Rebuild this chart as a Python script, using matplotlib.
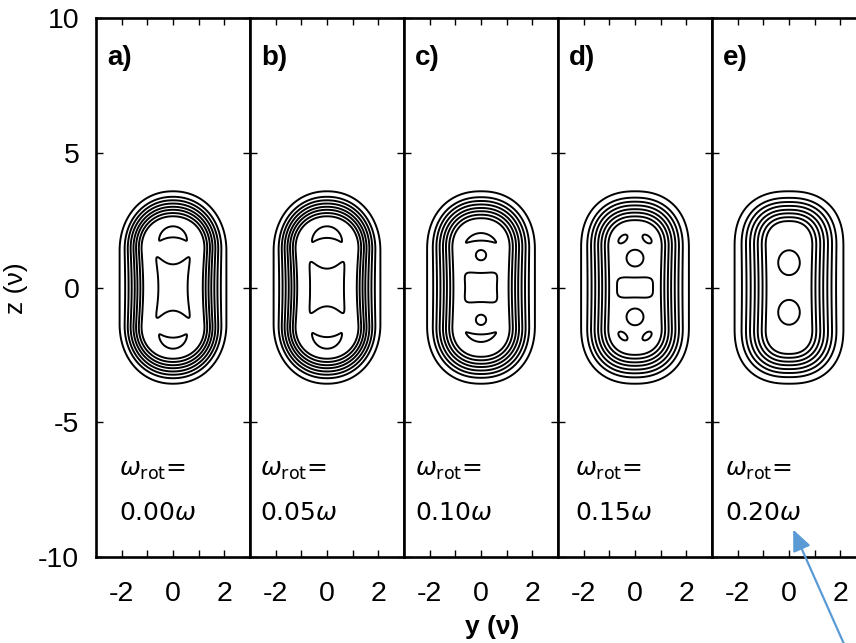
import numpy as np
import matplotlib.pyplot as plt

plt.rcParams['font.family'] = ['Liberation Sans', 'DejaVu Sans']
plt.rcParams['axes.unicode_minus'] = False
plt.rcParams['mathtext.fontset'] = 'dejavusans'

panel_tags = ['a)', 'b)', 'c)', 'd)', 'e)']
omega_rot = ['0.00', '0.05', '0.10', '0.15', '0.20']
y_ticks = [-2, 0, 2]
y_minor = [-1, 1]
z_ticks = [-10, -5, 0, 5, 10]

# outer iso-density line of each cloud (units of nu)
cloud_width = [2.08, 2.08, 2.10, 2.10, 2.12]
cloud_height = [3.57, 3.57, 3.57, 3.57, 3.57]
# innermost ring relative to the outer one
inner_width = [0.62, 0.62, 0.55, 0.51, 0.44]
inner_height = [0.74, 0.74, 0.72, 0.70, 0.69]
# where the 8 rings sit between the outer (0) and innermost (1) one
ring_steps = [0.0, 0.22, 0.36, 0.49, 0.62, 0.74, 0.87, 1.0]
# half length of the straight flanks and squareness of the end caps
flank_len = [1.35, 1.35, 1.40, 1.45, 1.50]
cap_power = [2.1, 2.1, 2.2, 2.3, 2.4]
ring_waist = [0.10, 0.10, 0.07, 0.06, 0.06]

# central patch: half width at z=0 / at corner, half height at y=0 / at corner
core_w0 = [0.57, 0.66, 0.62, 0.70]
core_w1 = [0.75, 0.71, 0.68, 0.71]
core_h0 = [0.86, 0.70, 0.54, 0.37]
core_h1 = [1.36, 1.11, 0.61, 0.42]
core_power = [8, 8, 5, 4]

# crescents above/below the centre (panels a-c)
cres_top = [2.27, 2.27, 2.02]
cres_bottom = [1.86, 1.84, 1.74]
cres_tip_y = [0.55, 0.59, 0.63]
cres_tip_z = [1.70, 1.65, 1.63]

# small closed spots: (y, z, half width, half height, tilt in deg)
spots_c = [(0, 1.20, 0.20, 0.19, 0), (0, -1.20, 0.20, 0.19, 0)]
spots_d = [(0, 1.09, 0.33, 0.31, 0), (0, -1.09, 0.33, 0.31, 0),
           (-0.47, 1.80, 0.21, 0.12, 40), (0.47, 1.80, 0.21, 0.12, -40),
           (-0.47, -1.80, 0.21, 0.12, -40), (0.47, -1.80, 0.21, 0.12, 40)]
spots_e = [(0, 0.92, 0.42, 0.46, 0), (0, -0.92, 0.42, 0.46, 0)]
spots = [[], [], spots_c, spots_d, spots_e]

label_offset = [23, 10, 11, 17, 13]   # px from left spine

y = np.linspace(-3, 3, 601)
z = np.linspace(-4.5, 4.5, 901)
Y, Z = np.meshgrid(y, z)


def softmin(a, b, k=0.03):
    m = np.minimum(a, b)
    return m - k * np.log(np.exp(-(a - m) / k) + np.exp(-(b - m) / k))


def ring_field(i, t):
    # stadium: straight flanks for |z| < flank_len, rounded caps beyond
    fy = 1 - (1 - inner_width[i]) * t
    fz = 1 - (1 - inner_height[i]) * t
    a = cloud_width[i] * fy * (1 - ring_waist[i] * t * np.exp(-Z**2 / (2 * 1.2**2)))
    b = cloud_height[i] * fz
    zs = min(flank_len[i], 0.8 * b)
    c = b - zs
    q = cap_power[i]
    dz = np.maximum(np.abs(Z) - zs, 0)
    return (np.abs(Y) / a)**q + (dz / c)**q


def core_field(i):
    a = core_w0[i] + (core_w1[i] - core_w0[i]) * (Z / core_h1[i])**2
    b = core_h0[i] + (core_h1[i] - core_h0[i]) * (Y / core_w1[i])**2
    a = np.minimum(a, 1.05 * core_w1[i])
    b = np.minimum(b, 1.05 * core_h1[i])
    p = core_power[i]
    return 1 - ((np.abs(Y) / a)**p + (np.abs(Z) / b)**p)**(1 / p)


def crescent_field(i):
    zt, zb = cres_top[i], cres_bottom[i]
    yt, ztp = cres_tip_y[i], cres_tip_z[i]
    c1 = (zt**2 - yt**2 - ztp**2) / (2 * (zt - ztp))
    c2 = (zb**2 - yt**2 - ztp**2) / (2 * (zb - ztp))
    az = np.abs(Z)
    d1 = np.hypot(Y, az - c1)
    d2 = np.hypot(Y, az - c2)
    return softmin((zt - c1) - d1, d2 - (zb - c2))


def spot_field(s):
    y0, z0, ry, rz, tilt = s
    th = np.deg2rad(tilt)
    u = (Y - y0) * np.cos(th) + (Z - z0) * np.sin(th)
    v = -(Y - y0) * np.sin(th) + (Z - z0) * np.cos(th)
    return 1 - np.sqrt((u / ry)**2 + (v / rz)**2)


fig = plt.figure(figsize=(8.56, 6.43), dpi=100)
W, H = 856, 643
left, width = 96, 154
bottom, top = 557, 18

for i in range(5):
    ax = fig.add_axes([(left + i * width) / W, 1 - bottom / H,
                       width / W, (bottom - top) / H])
    for t in ring_steps:
        ax.contour(Y, Z, ring_field(i, t), levels=[1.0],
                   colors='black', linewidths=1.4)
    inner = np.full(Y.shape, -1.0)
    if i < 4:
        inner = np.maximum(inner, core_field(i))
    if i < 3:
        inner = np.maximum(inner, crescent_field(i))
    for s in spots[i]:
        inner = np.maximum(inner, spot_field(s))
    ax.contour(Y, Z, inner, levels=[0.0], colors='black', linewidths=1.4)

    ax.set_xlim(-3, 3)
    ax.set_ylim(-10, 10)
    ax.set_xticks(y_ticks)
    ax.set_xticks(y_minor, minor=True)
    ax.set_yticks(z_ticks)
    ax.tick_params(which='both', direction='in', top=True, right=True,
                   length=5, width=1.0, labelsize=20.5)
    ax.tick_params(axis='x', pad=17)
    ax.tick_params(axis='y', pad=12)
    if i > 0:
        ax.set_yticklabels([])
    for sp in ax.spines.values():
        sp.set_linewidth(1.9)

    ax.text(11 / width, 1 - 47 / (bottom - top), panel_tags[i],
            transform=ax.transAxes, fontsize=20, fontweight='bold',
            ha='left', va='baseline')
    x0 = label_offset[i] / width
    ax.text(x0, 1 - (476 - top) / (bottom - top), r'$\omega_{\mathrm{rot}}$=',
            transform=ax.transAxes, fontsize=18, family='DejaVu Sans',
            ha='left', va='baseline')
    ax.text(x0, 1 - (520 - top) / (bottom - top), omega_rot[i] + r'$\omega$',
            transform=ax.transAxes, fontsize=18, family='DejaVu Sans',
            ha='left', va='baseline')

fig.text(492 / W, 1 - 627 / H, 'y (ν)', fontsize=19, fontweight='bold',
         ha='center', va='center')
fig.text(16 / W, 1 - 288 / H, 'z (ν)', fontsize=19, rotation=90,
         ha='center', va='center')

fig.add_artist(plt.Annotation(
    '', xy=(792 / W, 1 - 527 / H), xycoords='figure fraction',
    xytext=(852 / W, 1 - 662 / H), textcoords='figure fraction',
    arrowprops=dict(arrowstyle='-|>,head_length=0.8,head_width=0.35',
                    color='#5B9BD5', lw=1.6, mutation_scale=16),
    annotation_clip=False))

fig.savefig('out.png', dpi=100)
